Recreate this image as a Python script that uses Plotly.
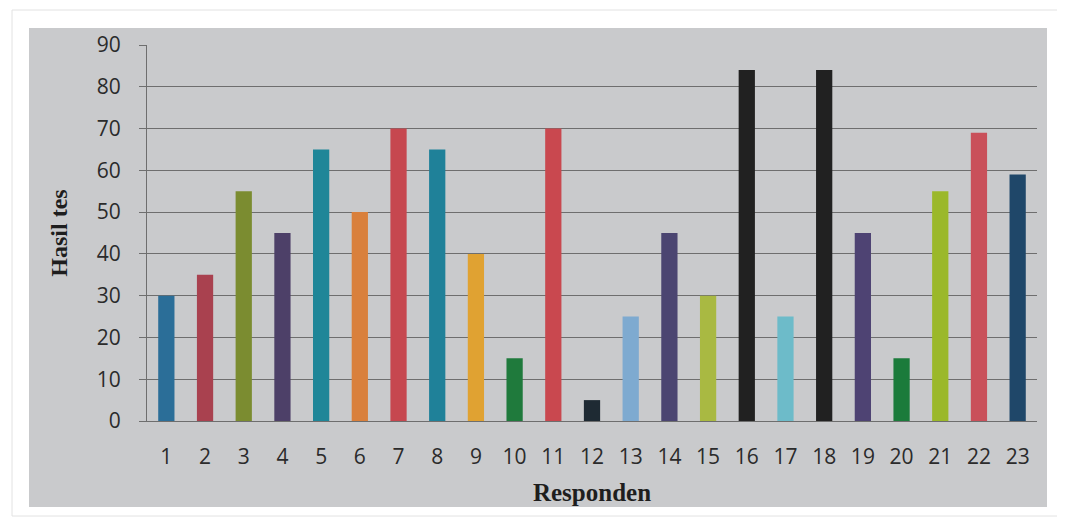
import plotly.graph_objects as go

responden = [str(i) for i in range(1, 24)]
hasil_tes = [30, 35, 55, 45, 65, 50, 70, 65, 40, 15, 70, 5, 25, 45, 30, 84, 25, 84, 45, 15, 55, 69, 59]
bar_colors = ["#2b6e98", "#a9414f", "#7b8c30", "#4d4068", "#1f8698", "#d9803c", "#c6474f",
              "#1f8199", "#e0a232", "#1f7a3c", "#c9484f", "#1e2a33", "#7eaad0", "#4b4571",
              "#a9b942", "#212121", "#6dbbc9", "#212121", "#4e4373", "#1b7b3b", "#9bb82a",
              "#c9505a", "#1f4769"]
y_ticks = [0, 10, 20, 30, 40, 50, 60, 70, 80, 90]

# page body adds an 8px offset; figure sized to fit the window
W, H = 1057, 513
L, R, T, B = 139, 28, 37, 100
pw, ph = W - L - R, H - T - B

fig = go.Figure(go.Bar(x=responden, y=hasil_tes, marker=dict(color=bar_colors, line=dict(width=0)),
                       width=0.42))

# grey photo panel
fig.add_shape(type="rect", xref="paper", yref="paper", layer="below",
              x0=(21 - L) / pw, x1=(1039 - L) / pw, y0=1 - (499 - T) / ph, y1=1 - (20 - T) / ph,
              fillcolor="#c9cacc", line=dict(width=0))
# outer frame
fig.add_shape(type="rect", xref="paper", yref="paper", layer="below",
              x0=(4 - L) / pw, x1=(1052 - L) / pw, y0=1 - (508 - T) / ph, y1=1 - (2 - T) / ph,
              fillcolor="rgba(0,0,0,0)", line=dict(width=1, color="#e2e2e2"))

fig.update_layout(
    width=W, height=H,
    margin=dict(l=L, r=R, t=T, b=B),
    paper_bgcolor="white", plot_bgcolor="rgba(0,0,0,0)",
    showlegend=False,
    xaxis=dict(type="category", range=[-0.5, 22.5], showgrid=False,
               tickfont=dict(family="Open Sans", size=21, color="#2b2b2b"),
               ticks="", ticklabelstandoff=17,
               showline=True, linecolor="#6e6e6e", linewidth=1,
               title=dict(text="<b>Responden</b>", font=dict(family="Liberation Serif", size=25, color="#1e1e1e"),
                          standoff=14)),
    yaxis=dict(range=[0, 90], tickvals=y_ticks, showgrid=True, gridcolor="#6e6e6e", gridwidth=1,
               zeroline=False, ticks="outside", ticklen=7, tickcolor="#6e6e6e",
               showline=True, linecolor="#6e6e6e", linewidth=1, ticklabelstandoff=14,
               tickfont=dict(family="Open Sans", size=21, color="#2b2b2b"),
               title=dict(text="<b>Hasil tes</b>", font=dict(family="Liberation Serif", size=24, color="#1e1e1e"),
                          standoff=22)),
)

fig.write_html("out.html")
